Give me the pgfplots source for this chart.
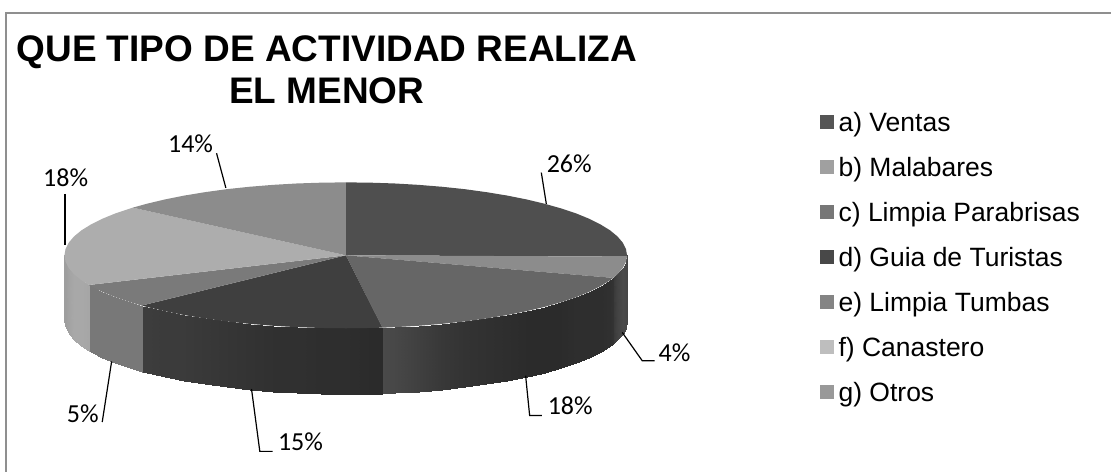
\documentclass[border=0pt]{standalone}
\usepackage{pgfplots}
\pgfplotsset{compat=1.18}
\usepackage{pgfplotstable}
\usepackage{fontspec}
\setmainfont{Liberation Sans}
\newfontfamily\calfont{Carlito}
\definecolor{ta}{HTML}{4F4F4F}
\definecolor{tb}{HTML}{8C8C8C}
\definecolor{tc}{HTML}{666666}
\definecolor{td}{HTML}{3F3F3F}
\definecolor{te}{HTML}{7A7A7A}
\definecolor{tf}{HTML}{ADADAD}
\definecolor{tg}{HTML}{8C8C8C}
\definecolor{frame}{HTML}{8F8F8F}
\pgfplotstableread{
x y g
627.5 255.5 0.27
627.5 321.5 0.27
626.4 261.9 0.28
626.4 327.9 0.28
623.2 268.2 0.29
623.2 334.2 0.29
617.9 274.4 0.26
617.9 340.4 0.26
613.7 278.1 0.22
613.7 344.1 0.22
613.7 278.1 0.20
613.7 344.1 0.20
610.5 280.5 0.19
610.5 346.5 0.19
601.1 286.3 0.18
601.1 352.3 0.18
589.8 292.0 0.18
589.8 358.0 0.18
576.6 297.4 0.18
576.6 363.4 0.18
561.6 302.4 0.17
561.6 368.4 0.17
545.1 307.1 0.17
545.1 373.1 0.17
527.0 311.4 0.17
527.0 377.4 0.17
507.5 315.3 0.18
507.5 381.3 0.18
486.8 318.7 0.19
486.8 384.7 0.19
465.0 321.7 0.20
465.0 387.7 0.20
442.3 324.1 0.22
442.3 390.1 0.22
418.9 326.0 0.25
418.9 392.0 0.25
394.9 327.4 0.28
394.9 393.4 0.28
382.7 327.9 0.29
382.7 393.9 0.29
382.7 327.9 0.17
382.7 393.9 0.17
370.5 328.2 0.17
370.5 394.2 0.17
346.0 328.5 0.18
346.0 394.5 0.18
321.5 328.2 0.18
321.5 394.2 0.18
297.1 327.4 0.19
297.1 393.4 0.19
273.1 326.0 0.19
273.1 392.0 0.19
249.7 324.1 0.20
249.7 390.1 0.20
227.0 321.7 0.21
227.0 387.7 0.21
205.2 318.7 0.22
205.2 384.7 0.22
184.5 315.3 0.23
184.5 381.3 0.23
165.0 311.4 0.23
165.0 377.4 0.23
146.9 307.1 0.24
146.9 373.1 0.24
141.8 305.8 0.24
141.8 371.8 0.24
141.8 305.8 0.47
141.8 371.8 0.47
130.4 302.4 0.47
130.4 368.4 0.47
115.4 297.4 0.47
115.4 363.4 0.47
102.2 292.0 0.47
102.2 358.0 0.47
90.9 286.3 0.47
90.9 352.3 0.47
88.8 285.2 0.47
88.8 351.2 0.47
88.8 285.2 0.65
88.8 351.2 0.65
81.5 280.5 0.66
81.5 346.5 0.66
74.1 274.4 0.66
74.1 340.4 0.66
68.8 268.2 0.64
68.8 334.2 0.64
65.6 261.9 0.62
65.6 327.9 0.62
64.5 255.5 0.62
64.5 321.5 0.62
}\walltable
\begin{document}
\begin{tikzpicture}
\begin{axis}[
  width=1112pt,height=472pt,scale only axis,
  xmin=0,xmax=1112,ymin=0,ymax=472,y dir=reverse,
  ticks=none,axis line style={draw=none},
  clip=false,
  colormap={grayscale}{gray(0cm)=(0); gray(1cm)=(1)},
  point meta min=0,point meta max=1,
  legend cell align=left,
  legend image code/.code={\fill[#1,draw=none] (3pt,-4pt) rectangle (17pt,10pt);},
  legend style={at={(axis cs:817,110.5)},anchor=north west,draw=none,fill=none,
    font=\fontsize{26.5}{30}\selectfont,row sep=20pt,column sep=5pt,
    nodes={text height=19pt,text depth=6pt,inner sep=0pt,outer sep=0pt}},
]
% frame
\addplot[frame,line width=1.6pt,forget plot] coordinates {(5.9,472) (5.9,13.3) (1112,13.3)};
% side wall
\addplot[surf,shader=interp,mesh/rows=2,mesh/ordering=y varies,point meta=\thisrow{g},forget plot] table[x=x,y=y] {\walltable};
% top faces
\addplot[draw=none,fill=ta,area legend,forget plot] coordinates {(346,255.5)(346,182.5)(370.5,182.8)(394.9,183.6)(418.9,185)(442.3,186.9)(465,189.3)(486.8,192.3)(507.5,195.7)(527,199.6)(545.1,203.9)(561.6,208.6)(576.6,213.6)(589.8,219)(601.1,224.7)(610.5,230.5)(617.9,236.6)(623.2,242.8)(626.4,249.1)(627.5,255.5)(627.5,256.8)} -- cycle;
\addplot[draw=none,fill=tb,forget plot] coordinates {(346,255.5)(627.5,256.8)(626.4,261.9)(623.2,268.2)(617.9,274.4)(613.7,278.1)} -- cycle;
\addplot[draw=none,fill=tc,forget plot] coordinates {(346,255.5)(613.7,278.1)(610.5,280.5)(601.1,286.3)(589.8,292)(576.6,297.4)(561.6,302.4)(545.1,307.1)(527,311.4)(507.5,315.3)(486.8,318.7)(465,321.7)(442.3,324.1)(418.9,326)(394.9,327.4)(382.7,327.9)} -- cycle;
\addplot[draw=none,fill=td,forget plot] coordinates {(346,255.5)(382.7,327.9)(370.5,328.2)(346,328.5)(321.5,328.2)(297.1,327.4)(273.1,326)(249.7,324.1)(227,321.7)(205.2,318.7)(184.5,315.3)(165,311.4)(146.9,307.1)(141.8,305.8)} -- cycle;
\addplot[draw=none,fill=te,forget plot] coordinates {(346,255.5)(141.8,305.8)(130.4,302.4)(115.4,297.4)(102.2,292)(90.9,286.3)(88.8,285.2)} -- cycle;
\addplot[draw=none,fill=tf,forget plot] coordinates {(346,255.5)(88.8,285.2)(81.5,280.5)(74.1,274.4)(68.8,268.2)(65.6,261.9)(64.5,255.5)(65.6,249.1)(68.8,242.8)(74.1,236.6)(81.5,230.5)(90.9,224.7)(102.2,219)(115.4,213.6)(130.4,208.6)(132.9,207.8)} -- cycle;
\addplot[draw=none,fill=tg,forget plot] coordinates {(346,255.5)(132.9,207.8)(146.9,203.9)(165,199.6)(184.5,195.7)(205.2,192.3)(227,189.3)(249.7,186.9)(273.1,185)(297.1,183.6)(321.5,182.8)(346,182.5)} -- cycle;
% legend entries
\addlegendimage{fill={rgb,255:red,85;green,85;blue,85}}\addlegendentry{a) Ventas}
\addlegendimage{fill={rgb,255:red,160;green,160;blue,160}}\addlegendentry{b) Malabares}
\addlegendimage{fill={rgb,255:red,119;green,119;blue,119}}\addlegendentry{c) Limpia Parabrisas}
\addlegendimage{fill={rgb,255:red,72;green,72;blue,72}}\addlegendentry{d) Guia de Turistas}
\addlegendimage{fill={rgb,255:red,132;green,132;blue,132}}\addlegendentry{e) Limpia Tumbas}
\addlegendimage{fill={rgb,255:red,190;green,190;blue,190}}\addlegendentry{f) Canastero}
\addlegendimage{fill={rgb,255:red,153;green,153;blue,153}}\addlegendentry{g) Otros}
% leader lines
\addplot[black,line width=1.2pt,forget plot] coordinates {(541.7,172.7)(546.7,204)};
\addplot[black,line width=1.2pt,forget plot] coordinates {(216.7,153.3)(226,188)};
\addplot[black,line width=1.2pt,forget plot] coordinates {(65,194)(65,245)};
\addplot[black,line width=1.2pt,forget plot] coordinates {(622.7,332.7)(642.7,361)(655,361)};
\addplot[black,line width=1.2pt,forget plot] coordinates {(526,376)(530,415.7)(542.3,415.7)};
\addplot[black,line width=1.2pt,forget plot] coordinates {(251.7,389.3)(260,451.7)(272.7,451.7)};
\addplot[black,line width=1.2pt,forget plot] coordinates {(111.7,361.7)(102.3,422.3)};
% labels
\tikzset{lbl/.style={anchor=base west,inner sep=0pt,font=\calfont\fontsize{26}{28}\selectfont}}
\node[lbl] at (axis cs:547,172.7) {26\%};
\node[lbl] at (axis cs:168,152.7) {14\%};
\node[lbl] at (axis cs:43,186.7) {18\%};
\node[lbl] at (axis cs:659,361.5) {4\%};
\node[lbl] at (axis cs:548,415) {18\%};
\node[lbl] at (axis cs:278,450.7) {15\%};
\node[lbl] at (axis cs:66.7,423) {5\%};
% title
\node[anchor=base,align=center,inner sep=0pt,font=\bfseries\fontsize{37}{42}\selectfont] at (axis cs:327,104) {QUE TIPO DE ACTIVIDAD REALIZA\\EL MENOR};
\end{axis}
\end{tikzpicture}
\end{document}
